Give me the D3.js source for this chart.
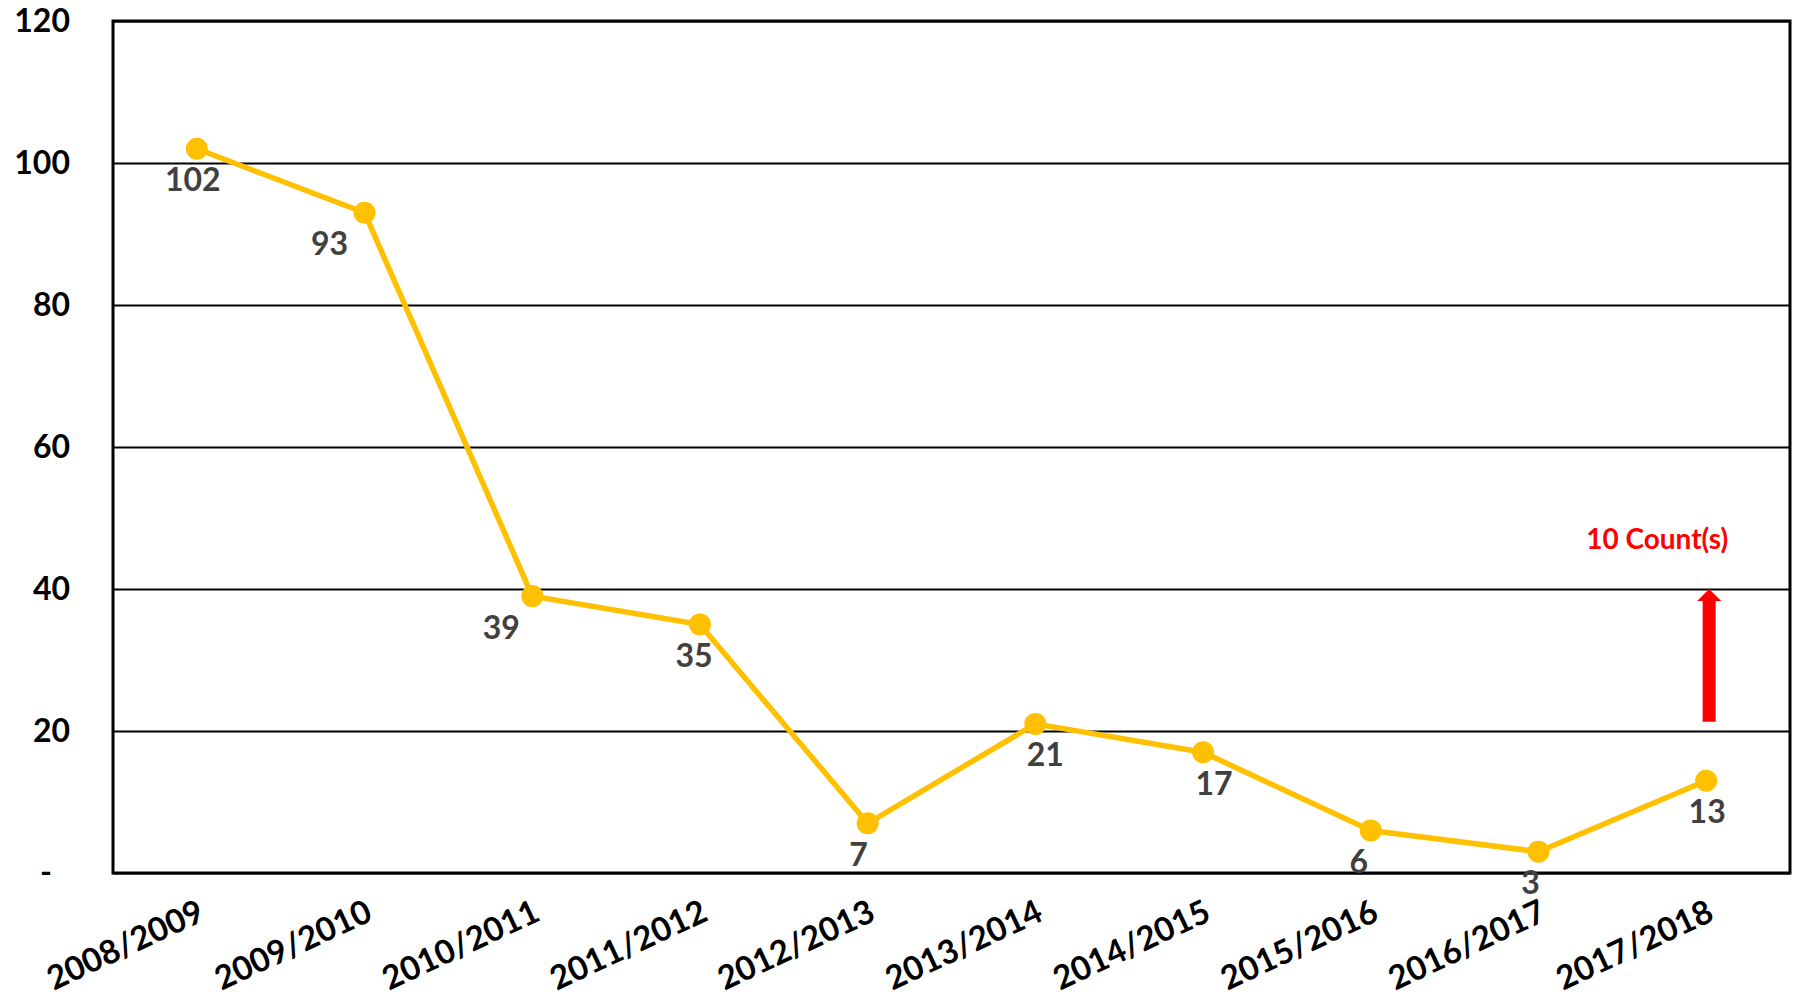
<!DOCTYPE html>
<html>
<head>
<meta charset="utf-8">
<script src="https://cdn.jsdelivr.net/npm/d3@7"></script>
<style>
  html, body { margin: 0; padding: 0; background: #fff; }
  svg { display: block; font-family: Lato, "Open Sans", sans-serif; }
</style>
</head>
<body>
<svg id="chart" width="1794" height="996"></svg>
<script>
const categories = ["2008/2009","2009/2010","2010/2011","2011/2012","2012/2013","2013/2014","2014/2015","2015/2016","2016/2017","2017/2018"];
const counts = [102, 93, 39, 35, 7, 21, 17, 6, 3, 13];
const yTicks = [0, 20, 40, 60, 80, 100, 120];
const annotationText = "10 Count(s)";
const arrowFrom = 21.3, arrowTo = 40, annotationAt = 47;
// manual label nudges (layout only)
const labelDx = [-4, -35, -31, -6, -9, 10, 11, -12, -8, 1];

const W = 1794, H = 996;
const m = { left: 113, right: 4, top: 21, bottom: 123 };
const iw = W - m.left - m.right, ih = H - m.top - m.bottom;

const svg = d3.select("#chart");
const g = svg.append("g").attr("transform", `translate(${m.left},${m.top})`);

const x = d3.scalePoint().domain(categories).range([0, iw]).padding(0.5);
const y = d3.scaleLinear().domain([0, 120]).range([ih, 0]);

// grid + y axis
const yAxis = g.append("g")
  .call(d3.axisLeft(y).tickValues(yTicks).tickSize(-iw).tickPadding(43)
        .tickFormat(d => d === 0 ? "-" : d));
yAxis.select(".domain").remove();
yAxis.selectAll(".tick line").attr("stroke", "#000").attr("stroke-width", 2.2);
yAxis.selectAll(".tick text")
  .attr("fill", "#000").attr("font-size", 32).attr("font-weight", "bold")
  .attr("font-family", "Lato, 'Open Sans', sans-serif");
yAxis.selectAll(".tick").filter(d => d === 0).select("text")
  .attr("text-anchor", "middle").attr("x", -67).attr("dy", "0.3em");

// frame
g.append("rect").attr("x", 0).attr("y", 0).attr("width", iw).attr("height", ih)
  .attr("fill", "none").attr("stroke", "#000").attr("stroke-width", 3);

// x axis labels
const xAxis = g.append("g").attr("transform", `translate(0,${ih})`)
  .call(d3.axisBottom(x).tickSize(0).tickPadding(0));
xAxis.select(".domain").remove();
xAxis.selectAll(".tick text")
  .attr("fill", "#000").attr("font-size", 33).attr("font-weight", "bold")
  .attr("font-family", "Lato, 'Open Sans', sans-serif")
  .attr("text-anchor", "end")
  .attr("x", 0).attr("y", 0).attr("dy", "0.72em")
  .attr("transform", "translate(-1,25) rotate(-25)");

// line
const line = d3.line().x((d, i) => x(categories[i])).y(d => y(d));
g.append("path").datum(counts).attr("d", line)
  .attr("fill", "none").attr("stroke", "#FFC000").attr("stroke-width", 5.5)
  .attr("stroke-linejoin", "round");

g.selectAll("circle.pt").data(counts).join("circle").attr("class", "pt")
  .attr("cx", (d, i) => x(categories[i])).attr("cy", d => y(d)).attr("r", 11)
  .attr("fill", "#FFC000");

g.selectAll("text.lbl").data(counts).join("text").attr("class", "lbl")
  .attr("x", (d, i) => x(categories[i]) + labelDx[i])
  .attr("y", d => y(d) + 31).attr("dy", "0.36em")
  .attr("text-anchor", "middle").attr("font-size", 32).attr("font-weight", "bold")
  .attr("fill", "#404040").text(d => d);

// annotation arrow
const ax = x(categories[categories.length - 1]) + 3;
const tipY = y(arrowTo), baseY = y(arrowFrom);
const shaftW = 13, headW = 24, headH = 12;
g.append("path")
  .attr("d", `M${ax - shaftW/2},${baseY} L${ax - shaftW/2},${tipY + headH} L${ax - headW/2},${tipY + headH} L${ax},${tipY} L${ax + headW/2},${tipY + headH} L${ax + shaftW/2},${tipY + headH} L${ax + shaftW/2},${baseY} Z`)
  .attr("fill", "#FF0000");

g.append("text").attr("x", ax - 52).attr("y", y(annotationAt)).attr("dy", "0.36em")
  .attr("text-anchor", "middle").attr("font-size", 28).attr("font-weight", "bold")
  .attr("fill", "#FF0000").text(annotationText);
</script>
</body>
</html>
